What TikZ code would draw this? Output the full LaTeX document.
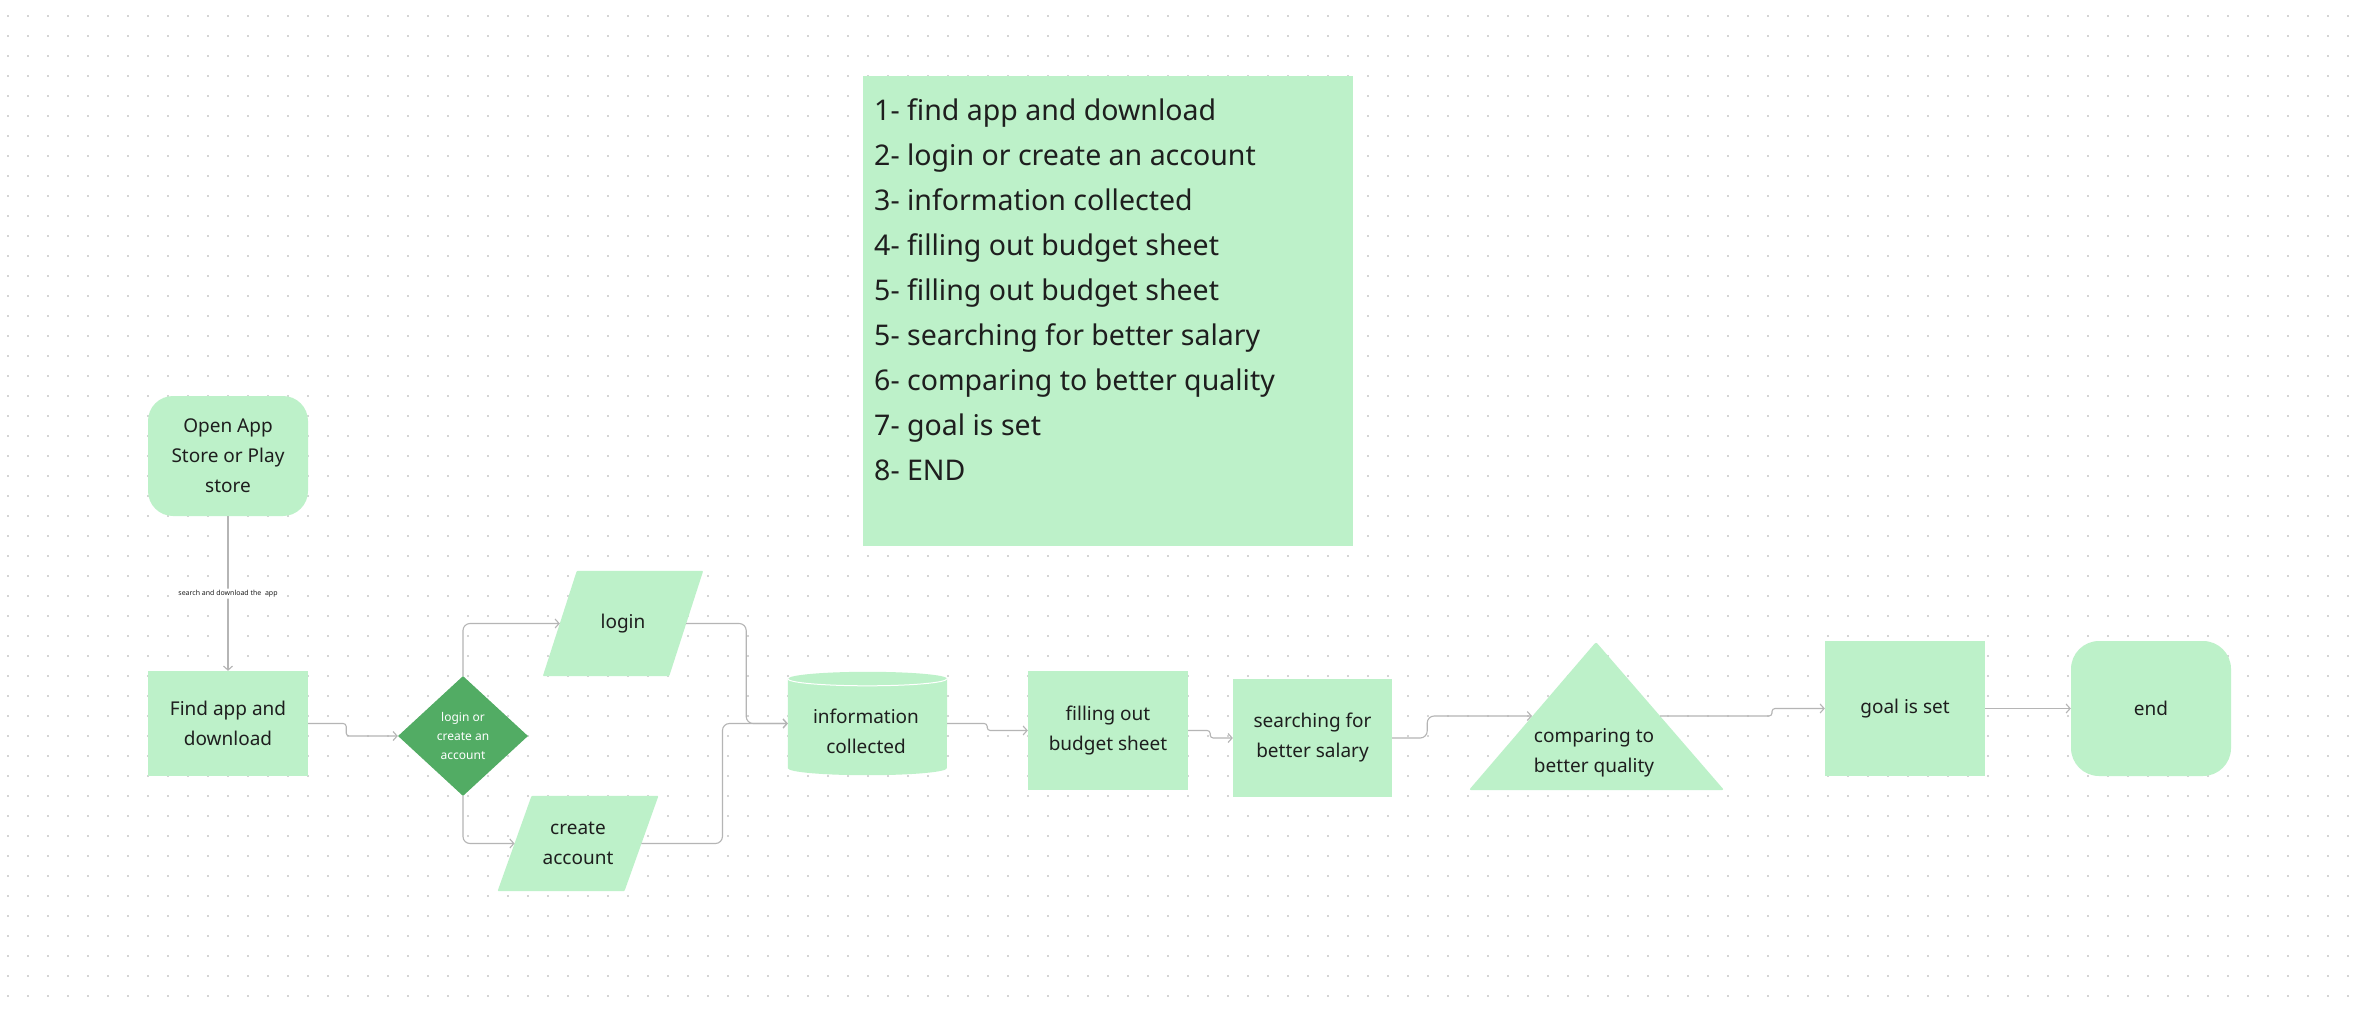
\documentclass[tikz,border=0pt]{standalone}
\usepackage{fontspec}
\setmainfont{Noto Sans}
\usetikzlibrary{arrows.meta,backgrounds,shapes.geometric}
\definecolor{lg}{HTML}{BDF1C9}
\definecolor{dg}{HTML}{52AC64}
\definecolor{ink}{HTML}{1E1E1E}
\definecolor{wire}{HTML}{B5B5B5}
\definecolor{dotc}{HTML}{D4D4D4}
\begin{document}
\begin{tikzpicture}[x=1pt,y=-1pt,
  box/.style={fill=lg, draw=none, inner sep=0pt, text=ink, align=center, font=\fontsize{19}{30}\selectfont},
  txt/.style={inner sep=0pt, text=ink, align=center, font=\fontsize{19}{30}\selectfont},
  wirestyle/.style={draw=wire, line width=1.1pt, rounded corners=7pt, -{Straight Barb[length=4pt,width=9pt]}},
  smallstep/.style={rounded corners=3pt}
]
\useasboundingbox (0,0) rectangle (2360,1014);
\begin{scope}[on background layer]
\fill[white] (0,0) rectangle (2360,1014);
\foreach \j in {0,...,49}
  \draw[dotc, line width=2pt, dash pattern=on 2pt off 18pt] (7,16+20*\j) -- (2360,16+20*\j);
\end{scope}

% notes
\node[fill=lg, minimum width=490pt, minimum height=470pt, inner sep=0pt] (notes) at (1108,311) {};
\node[anchor=north west, inner sep=0pt, align=left, text=ink, font=\fontsize{28.5}{45}\selectfont] (notestxt) at (874,98)
 {1- find app and download\\2- login or create an account\\3- information collected\\4- filling out budget sheet\\5- filling out budget sheet\\5- searching for better salary\\6- comparing to better quality\\7- goal is set\\8- END};

% nodes
\node[box, rounded corners=25pt, minimum width=160pt, minimum height=120pt] (open) at (228,456) {Open App\\Store or Play\\store};
\node[box, minimum width=160pt, minimum height=105pt] (find) at (228,723.5) {Find app and\\download};
\node[diamond, fill=dg, minimum width=130pt, minimum height=120pt, inner sep=0pt, text=white, align=center, font=\fontsize{12}{19}\selectfont] (dia) at (463,736) {login or\\create an\\account};
\node[txt, minimum width=126pt, minimum height=105pt] (login) at (623,623.5) {login};
\node[txt, minimum width=126.5pt, minimum height=95pt] (create) at (578,843.5) {create\\account};
\node[inner sep=0pt, minimum width=159pt, minimum height=103pt] (cyl) at (867.5,723.5) {};
\node[txt] (cyltxt) at (866,731) {information\\collected};
\node[box, minimum width=160pt, minimum height=119pt] (budget) at (1108,730.5) {filling out\\budget sheet};
\node[box, minimum width=159pt, minimum height=118pt] (srch) at (1312.5,738) {searching for\\better salary};
\fill[lg, rounded corners=2pt] (1596,642) -- (1724,790) -- (1469,790) -- cycle;
\node[txt] (cmp) at (1594,753) {comparing to\\better quality};
\coordinate (cmpL) at (1532,716);
\coordinate (cmpR) at (1660,716);
\node[box, minimum width=160pt, minimum height=135pt] (goal) at (1905,708.5) {goal is set};
\node[box, rounded corners=28pt, minimum width=160pt, minimum height=135pt] (end) at (2151,708.5) {end};

\begin{scope}[on background layer]
\fill[lg, rounded corners=1pt] ([xshift=-17pt]login.south west) -- ([xshift=-17pt]login.south east) -- ([xshift=17pt]login.north east) -- ([xshift=17pt]login.north west) -- cycle;
\fill[lg, rounded corners=1pt] ([xshift=-17pt]create.south west) -- ([xshift=-17pt]create.south east) -- ([xshift=17pt]create.north east) -- ([xshift=17pt]create.north west) -- cycle;
\fill[lg] ([yshift=-7pt]cyl.north west) -- ([yshift=7pt]cyl.south west)
  arc[start angle=180, end angle=360, x radius=79.5pt, y radius=7pt]
  -- ([yshift=-7pt]cyl.north east)
  arc[start angle=0, end angle=180, x radius=79.5pt, y radius=7pt] -- cycle;
\draw[white, line width=1pt] ([yshift=-7pt]cyl.north west) arc[start angle=180, end angle=360, x radius=79.5pt, y radius=7pt];
\end{scope}

% connectors
\draw[wirestyle] (open.south) -- node[fill=white, inner sep=1.5pt, font=\fontsize{7}{8}\selectfont, text=ink] (lbl) {search and download the\ \ app} (find.north);
\draw[wirestyle, smallstep] (find.east) -- ++(38,0) |- (dia.west);
\draw[wirestyle] (dia.north) |- (login.west);
\draw[wirestyle] (login.east) -- ++(60,0) |- (cyl.west);
\draw[wirestyle] (dia.south) |- (create.west);
\draw[wirestyle] (create.east) -- ++(81,0) |- (cyl.west);
\draw[wirestyle, smallstep] (cyl.east) -- ++(40,0) |- (budget.west);
\draw[wirestyle, smallstep] (budget.east) -- ++(22,0) |- (srch.west);
\draw[wirestyle] (srch.east) -- ++(35,0) |- (cmpL);
\draw[wirestyle, smallstep] (cmpR) -- ++(112,0) |- (goal.west);
\draw[wirestyle] (goal.east) -- (end.west);
\end{tikzpicture}
\end{document}
